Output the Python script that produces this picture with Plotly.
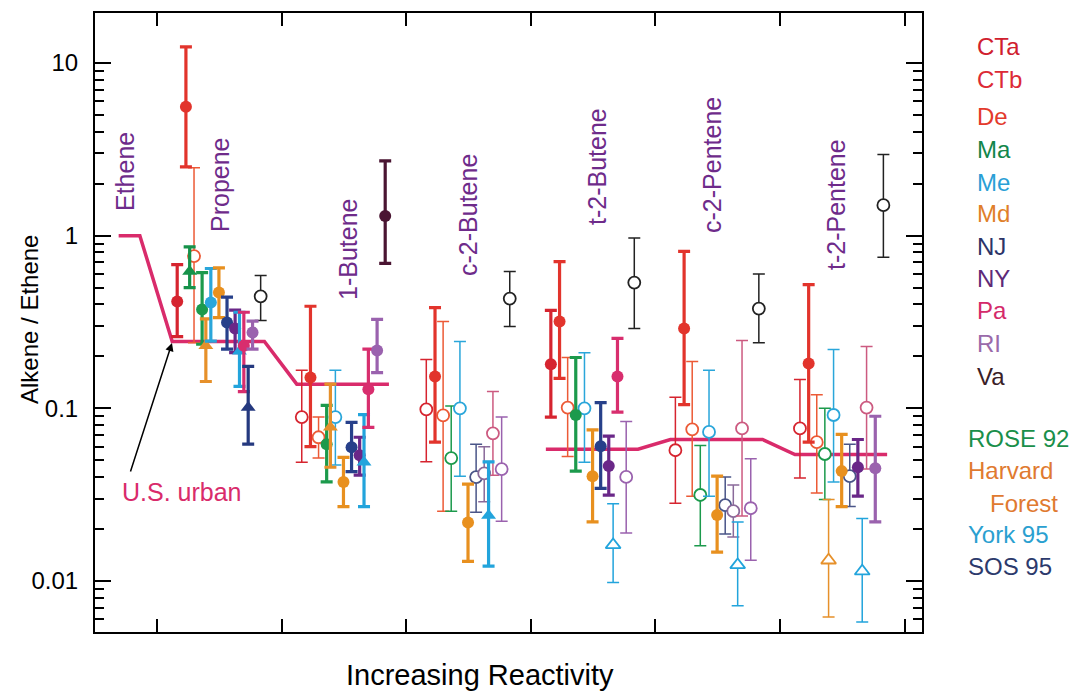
import plotly.graph_objects as go

# ---------------- data ----------------
groups = ["Propene", "1-Butene", "c-2-Butene", "t-2-Butene", "c-2-Pentene", "t-2-Pentene"]
group_labels = ["Ethene", "Propene", "1-Butene", "c-2-Butene", "t-2-Butene", "c-2-Pentene", "t-2-Pentene"]

# U.S. urban reference line (group index 0 = Ethene; c-2-Butene has none)
urban_group_index = [0, 1, 2, 4, 5, 6]
urban_ratio = [1.0, 0.244, 0.138, 0.058, 0.066, 0.054]

# per-site ratios (one value per alkene group), lower/upper error limits, 1 = filled symbol
CTa_ratio = [0.415, 0.089, 0.0987, 0.18, 0.0572, 0.0765]
CTa_low = [0.26, 0.0488, 0.049, 0.089, 0.0282, 0.0395]
CTa_high = [0.68, 0.166, 0.192, 0.369, 0.116, 0.147]
CTa_filled = [1, 0, 0, 1, 0, 0]

CTb_ratio = [5.57, 0.151, 0.153, 0.318, 0.29, 0.182]
CTb_low = [2.5, 0.06, 0.0637, 0.149, 0.105, 0.0637]
CTb_high = [12.4, 0.39, 0.383, 0.708, 0.81, 0.52]
CTb_filled = [1, 1, 1, 1, 1, 1]

De_ratio = [0.76, 0.068, 0.091, 0.101, 0.0756, 0.0637]
De_low = [0.24, 0.0515, 0.0254, 0.0527, 0.031, 0.0323]
De_high = [2.47, 0.089, 0.318, 0.197, 0.187, 0.12]
De_filled = [0, 0, 0, 0, 0, 0]

ROSE_ratio = [0.62, None, None, None, None, None]
ROSE_low = [0.50, None, None, None, None, None]
ROSE_high = [0.86, None, None, None, None, None]
ROSE_filled = [1, 1, 1, 1, 1, 1]

Ma_ratio = [0.373, 0.062, 0.0515, 0.0915, 0.0315, 0.0544]
Ma_low = [0.235, 0.0375, 0.0254, 0.0433, 0.016, 0.0297]
Ma_high = [0.61, 0.104, 0.103, 0.197, 0.061, 0.1]
Ma_filled = [1, 1, 0, 1, 0, 0]

HF_ratio = [0.23, 0.0776, None, None, None, 0.0132]
HF_low = [0.143, 0.0456, None, None, None, 0.0062]
HF_high = [0.33, 0.138, None, None, None, 0.0297]
HF_filled = [1, 1, 1, 1, 1, 0]

Me_ratio = [0.41, 0.089, 0.1, 0.1, 0.073, 0.0915]
Me_low = [0.245, 0.047, 0.0404, 0.0488, 0.031, 0.0374]
Me_high = [0.645, 0.166, 0.244, 0.21, 0.166, 0.219]
Me_filled = [1, 0, 0, 0, 0, 0]

Md_ratio = [0.468, 0.0375, 0.0218, 0.0405, 0.0241, 0.0433]
Md_low = [0.335, 0.027, 0.013, 0.022, 0.0147, 0.027]
Md_high = [0.65, 0.052, 0.0364, 0.075, 0.0405, 0.0706]
Md_filled = [1, 1, 1, 1, 1, 1]

NJ_ratio = [0.314, 0.0596, 0.04, 0.0604, 0.0275, 0.0405]
NJ_low = [0.22, 0.043, 0.025, 0.0344, 0.0187, 0.027]
NJ_high = [0.44, 0.083, 0.062, 0.108, 0.04, 0.062]
NJ_filled = [1, 1, 0, 1, 0, 0]

NY_ratio = [0.29, 0.0535, 0.042, 0.0463, 0.0254, 0.0456]
NY_low = [0.21, 0.041, 0.0288, 0.0314, 0.018, 0.031]
NY_high = [0.37, 0.068, 0.06, 0.069, 0.036, 0.066]
NY_filled = [1, 1, 0, 1, 0, 1]

York_ratio = [0.214, 0.0488, 0.024, 0.0162, 0.0124, 0.0114]
York_low = [0.134, 0.027, 0.0122, 0.0098, 0.0072, 0.0058]
York_high = [0.36, 0.092, 0.049, 0.028, 0.022, 0.023]
York_filled = [1, 1, 1, 0, 0, 0]

Pa_ratio = [0.23, 0.129, 0.0717, 0.153, 0.0765, 0.101]
Pa_low = [0.125, 0.0776, 0.041, 0.095, 0.0238, 0.0445]
Pa_high = [0.36, 0.22, 0.125, 0.254, 0.247, 0.228]
Pa_filled = [1, 1, 0, 1, 0, 0]

SOS_ratio = [0.101, None, None, None, None, None]
SOS_low = [0.062, None, None, None, None, None]
SOS_high = [0.175, None, None, None, None, None]
SOS_filled = [1, 1, 1, 1, 1, 1]

RI_ratio = [0.275, 0.216, 0.0445, 0.0401, 0.0264, 0.045]
RI_low = [0.22, 0.161, 0.0222, 0.019, 0.0132, 0.022]
RI_high = [0.32, 0.327, 0.089, 0.084, 0.051, 0.09]
RI_filled = [1, 1, 0, 0, 0, 1]

Va_ratio = [0.445, 1.3, 0.432, 0.535, 0.378, 1.5]
Va_low = [0.323, 0.69, 0.298, 0.29, 0.24, 0.75]
Va_high = [0.587, 2.71, 0.62, 0.97, 0.6, 2.95]
Va_filled = [0, 1, 0, 0, 0, 0]

legend_states = ["CTa", "CTb", "De", "Ma", "Me", "Md", "NJ", "NY", "Pa", "RI", "Va"]
legend_campaigns = ["ROSE 92", "Harvard", "Forest", "York 95", "SOS 95"]

y_tick_values = [0.01, 0.1, 1, 10]
y_tick_labels = ["0.01", "0.1", "1", "10"]

# ---------------- styling ----------------
# (name, ratio, low, high, filled, offset within group, color, symbol)
series = [
    ("CTa", CTa_ratio, CTa_low, CTa_high, CTa_filled, 0.16, "#d6242f", "circle"),
    ("CTb", CTb_ratio, CTb_low, CTb_high, CTb_filled, 0.23, "#e2342c", "circle"),
    ("De", De_ratio, De_low, De_high, De_filled, 0.295, "#ec5a36", "circle"),
    ("ROSE 92", ROSE_ratio, ROSE_low, ROSE_high, ROSE_filled, 0.26, "#16924a", "triangle-up"),
    ("Ma", Ma_ratio, Ma_low, Ma_high, Ma_filled, 0.36, "#1c9a4c", "circle"),
    ("Harvard Forest", HF_ratio, HF_low, HF_high, HF_filled, 0.39, "#e6902a", "triangle-up"),
    ("Me", Me_ratio, Me_low, Me_high, Me_filled, 0.43, "#2aa6da", "circle"),
    ("Md", Md_ratio, Md_low, Md_high, Md_filled, 0.495, "#e8901f", "circle"),
    ("NJ", NJ_ratio, NJ_low, NJ_high, NJ_filled, 0.56, "#27408a", "circle"),
    ("NY", NY_ratio, NY_low, NY_high, NY_filled, 0.625, "#6a2788", "circle"),
    ("York 95", York_ratio, York_low, York_high, York_filled, 0.66, "#22a4dc", "triangle-up"),
    ("Pa", Pa_ratio, Pa_low, Pa_high, Pa_filled, 0.695, "#d82e6e", "circle"),
    ("SOS 95", SOS_ratio, SOS_low, SOS_high, SOS_filled, 0.73, "#25397f", "triangle-up"),
    ("RI", RI_ratio, RI_low, RI_high, RI_filled, 0.765, "#9a62ae", "circle"),
    ("Va", Va_ratio, Va_low, Va_high, Va_filled, 0.83, "#4a1532", "circle"),
]
open_color_override = {"Va": "#222222", "NY": "#8a6a9a", "NJ": "#4a5588", "Pa": "#cc5a80"}

state_colors = ["#d0202e", "#dc2a36", "#e33a2c", "#12864a", "#2a9fd6", "#e07f2a",
                "#2c3468", "#5e2a78", "#d42a6a", "#9a6aaa", "#3a2026"]
campaign_colors = ["#1a8f4a", "#e07a30", "#e07a30", "#2aa0d0", "#2c3a6c"]
label_purple = "#6e2b8a"
urban_color = "#d92b6b"
FONT = "Liberation Sans, Arial, Helvetica, sans-serif"

# plot-area geometry (pixels)
L, R, T, B = 95, 922, 13, 632
W, H = 1075, 691
XR = [0.5, 7.14]
YR = [-2.295, 1.289]


def px_to_paper_x(px):
    return (px - L) / (R - L)


def py_to_paper_y(py):
    return (B - py) / (B - T)


fig = go.Figure()

# ---- U.S. urban reference line ----
flat_start, flat_end = 0.12, 0.86
ux, uy = [], []
prev_g = None
for g, v in zip(urban_group_index, urban_ratio):
    if prev_g is not None and g - prev_g > 1:
        ux.append(None)
        uy.append(None)
    start = 0.69 if g == 0 else flat_start
    ux += [g + start, g + flat_end]
    uy += [v, v]
    prev_g = g
fig.add_trace(go.Scatter(x=ux, y=uy, mode="lines", line=dict(color=urban_color, width=3.5),
                         hoverinfo="skip", showlegend=False, connectgaps=False))

# ---- site data points (open first, filled on top) ----
for want_filled in (0, 1):
    for name, ratio, low, high, fill, off, color, sym in series:
        xs, ys, ep, em = [], [], [], []
        for gi, (v, lo, hi, f) in enumerate(zip(ratio, low, high, fill)):
            if v is None or f != want_filled:
                continue
            xs.append(gi + 1 + off)
            ys.append(v)
            ep.append(hi - v)
            em.append(v - lo)
        if not xs:
            continue
        c = color if want_filled else open_color_override.get(name, color)
        if want_filled:
            marker = dict(symbol=sym, size=12 if sym == "circle" else 13, color=c,
                          line=dict(color=c, width=0))
            err = dict(type="data", symmetric=False, array=ep, arrayminus=em,
                       color=c, thickness=3.2, width=6)
        else:
            marker = dict(symbol=sym, size=12 if sym == "circle" else 13, color="white",
                          line=dict(color=c, width=1.8))
            err = dict(type="data", symmetric=False, array=ep, arrayminus=em,
                       color=c, thickness=1.5, width=6)
        fig.add_trace(go.Scatter(x=xs, y=ys, mode="markers", marker=marker, error_y=err,
                                 name=name, showlegend=False))

# invisible trace that makes the right-hand tick axis render
fig.add_trace(go.Scatter(x=[XR[0]], y=[1], yaxis="y2", mode="markers", marker=dict(opacity=0),
                         hoverinfo="skip", showlegend=False))

# ---- annotations ----
ann = []
label_pos = [(125, 172), (220, 185), (348, 250), (468, 215), (597, 167), (712, 165), (836, 205)]
for txt, (px, py) in zip(group_labels, label_pos):
    ann.append(dict(text=txt, x=px_to_paper_x(px), y=py_to_paper_y(py), xref="paper", yref="paper",
                    textangle=-90, showarrow=False, xanchor="center", yanchor="middle",
                    font=dict(family=FONT, size=25, color=label_purple)))

state_y = [47, 80, 116, 149, 182, 214, 246, 278, 310, 343, 376]
for txt, c, py in zip(legend_states, state_colors, state_y):
    ann.append(dict(text=txt, x=px_to_paper_x(975), y=py_to_paper_y(py), xref="paper", yref="paper",
                    showarrow=False, xanchor="left", yanchor="middle",
                    font=dict(family=FONT, size=24, color=c)))
camp_pos = [(966, 438), (966, 470), (988, 503), (966, 534), (966, 566)]
for txt, c, (px, py) in zip(legend_campaigns, campaign_colors, camp_pos):
    ann.append(dict(text=txt, x=px_to_paper_x(px), y=py_to_paper_y(py), xref="paper", yref="paper",
                    showarrow=False, xanchor="left", yanchor="middle",
                    font=dict(family=FONT, size=24, color=c)))

ann.append(dict(text="U.S. urban", x=px_to_paper_x(120), y=py_to_paper_y(492), xref="paper", yref="paper",
                showarrow=False, xanchor="left", yanchor="middle",
                font=dict(family=FONT, size=25, color=urban_color)))
ann.append(dict(text="", x=px_to_paper_x(172), y=py_to_paper_y(343), xref="paper", yref="paper",
                showarrow=True, ax=-42, ay=130, arrowhead=2, arrowsize=1.1, arrowwidth=1.5,
                arrowcolor="black"))
ann.append(dict(text="Alkene / Ethene", x=px_to_paper_x(30), y=py_to_paper_y(320), xref="paper",
                yref="paper", textangle=-90, showarrow=False, xanchor="center", yanchor="middle",
                font=dict(family=FONT, size=24, color="black")))
ann.append(dict(text="Increasing Reactivity", x=px_to_paper_x(480), y=py_to_paper_y(675), xref="paper",
                yref="paper", showarrow=False, xanchor="center", yanchor="middle",
                font=dict(family=FONT, size=29, color="black")))

minor_vals = [m * 10 ** d for d in (-3, -2, -1, 0) for m in range(2, 10)]
minor_vals = [v for v in minor_vals if 10 ** YR[0] < v < 10 ** YR[1]]

common_y = dict(type="log", range=YR, tickmode="array", tickvals=y_tick_values,
                ticks="inside", ticklen=16, tickwidth=2, tickcolor="black",
                minor=dict(tickmode="array", tickvals=minor_vals, ticks="inside", ticklen=9,
                           tickwidth=1.5, tickcolor="black", showgrid=False),
                showgrid=False, zeroline=False)

yaxis = dict(common_y, ticktext=y_tick_labels,
             tickfont=dict(family=FONT, size=24, color="black"), ticklabelstandoff=10,
             showline=True, linewidth=2, linecolor="black", mirror=True)
yaxis2 = dict(common_y, overlaying="y", side="right", anchor="x", showticklabels=False,
              showline=False)

fig.update_layout(
    width=W, height=H,
    margin=dict(l=L, r=W - R, t=T, b=H - B),
    paper_bgcolor="white", plot_bgcolor="white",
    showlegend=False,
    annotations=ann,
    font=dict(family=FONT, color="black"),
    xaxis=dict(range=XR, tickmode="array", tickvals=[1, 2, 3, 4, 5, 6, 7], showticklabels=False,
               ticks="inside", ticklen=13, tickwidth=2, tickcolor="black",
               showline=True, linewidth=2, linecolor="black", mirror="ticks",
               showgrid=False, zeroline=False),
    yaxis=yaxis,
    yaxis2=yaxis2,
)

fig.write_html("out.html")
